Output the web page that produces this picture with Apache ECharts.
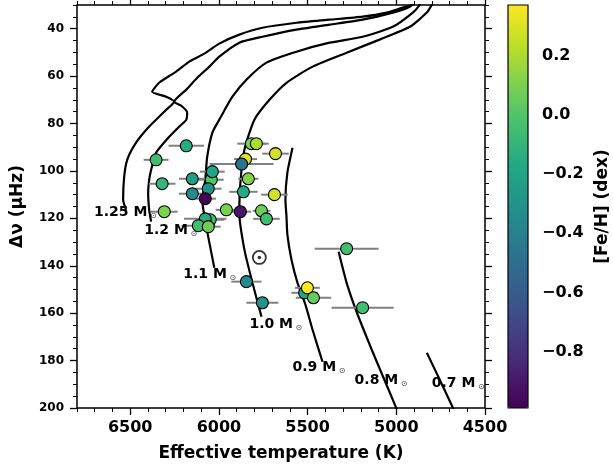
<!DOCTYPE html>
<html>
<head>
<meta charset="utf-8">
<script src="https://cdn.jsdelivr.net/npm/echarts@6/dist/echarts.min.js"></script>
<style>
  html, body { margin: 0; padding: 0; background: #fff; }
  #chart { width: 613px; height: 472px; }
</style>
</head>
<body>
<div id="chart"></div>
<script>
// stars: Teff (K), Teff error, delta nu (muHz), [Fe/H]
const teff = [6184, 6354, 6320, 6308, 6150, 6150, 6043, 6037, 6060, 6077, 5958, 5879, 5760, 5732, 5817, 5789, 5681, 5850, 5872, 5834, 5862, 5687, 6049, 6077, 6116, 6060, 5845, 5755, 5280, 5517, 5501, 5467, 5190]
const teffErr = [100, 70, 75, 75, 75, 75, 70, 70, 75, 60, 60, 60, 50, 75, 80, 70, 75, 65, 180, 57, 80, 75, 80, 120, 95, 70, 85, 90, 180, 75, 70, 100, 175]
const dnu = [89.4, 95.3, 105.4, 117.2, 103.3, 109.6, 103.7, 100.3, 107.5, 111.7, 116.4, 117.2, 116.8, 120.2, 88.5, 88.5, 92.7, 95.0, 97.1, 103.3, 108.8, 110.0, 120.6, 120.2, 123.1, 123.5, 146.7, 155.6, 132.8, 151.4, 149.3, 153.5, 157.7]
const feh = [-0.15, -0.05, -0.1, 0.1, -0.24, -0.35, 0.0, -0.2, -0.3, -0.98, 0.1, -0.9, 0.07, -0.05, 0.1, 0.2, 0.28, 0.3, -0.47, 0.12, -0.17, 0.28, -0.05, -0.15, -0.05, 0.07, -0.35, -0.3, -0.05, -0.2, 0.37, 0.05, -0.05]

// evolutionary tracks [Teff, delta nu]
const track125 = [[6523, 116.4], [6540, 112.1], [6534, 102.4], [6517, 95.3], [6467, 88.1], [6393, 81.3], [6297, 74.2], [6252, 70.8], [6297, 68.7], [6376, 66.6], [6337, 62.8], [6241, 58.1], [6167, 53.9], [6082, 50.5], [5998, 46.3], [5885, 42.5], [5755, 39.6], [5563, 37.5], [5376, 36.2], [5190, 34.9], [5054, 33.2], [4964, 31.1], [4907, 29.9], [4879, 27.8]]
const track12 = [[6382, 121.4], [6393, 116.4], [6399, 109.2], [6393, 103.7], [6382, 99.5], [6354, 92.3], [6280, 85.6], [6224, 81.3], [6184, 78.4], [6179, 75.4], [6212, 72.5], [6252, 70.8], [6184, 65.7], [6122, 60.7], [6054, 56.0], [5998, 51.8], [5885, 45.9], [5755, 43.4], [5563, 40.4], [5376, 38.3], [5190, 36.2], [5020, 33.2], [4924, 30.7], [4896, 28.6]]
const track11 = [[6026, 140.8], [6071, 123.5], [6094, 112.2], [6077, 103.7], [6066, 94.0], [6037, 83.9], [5992, 77.6], [5924, 68.7], [5845, 61.5], [5732, 54.3], [5563, 49.7], [5376, 45.9], [5190, 43.4], [5020, 39.2], [4907, 33.2], [4868, 29.9], [4856, 27.8]]
const track10 = [[5760, 161.5], [5811, 147.2], [5856, 133.3], [5885, 117.6], [5879, 105.0], [5856, 91.0], [5800, 78.4], [5715, 70.0], [5619, 62.8], [5472, 56.0], [5280, 50.1], [5094, 44.6], [4924, 39.2], [4828, 33.2], [4800, 29.9], [4789, 27.8]]
const track09 = [[5585, 90.2], [5614, 100.7], [5625, 112.1], [5619, 119.3], [5614, 126.9], [5591, 137.5], [5557, 147.2], [5512, 156.5], [5472, 167.0], [5416, 180.5]]
const track08 = [[5325, 134.1], [5280, 147.2], [5224, 159.4], [5150, 173.3], [5077, 186.4], [5003, 199.5], [4995, 201.5]]
const track07 = [[4828, 176.7], [4755, 188.1], [4681, 199.9], [4675, 201.5]]
const tracks = [track125, track12, track11, track10, track09, track08, track07]

// track labels: [Teff, delta nu, text]
const trackLabels = [
  [6704, 117.6, '1.25 M'],
  [6421, 125.2, '1.2 M'],
  [6201, 143.8, '1.1 M'],
  [5828, 164.9, '1.0 M'],
  [5585, 183.0, '0.9 M'],
  [5235, 188.5, '0.8 M'],
  [4800, 189.8, '0.7 M'],
]
const sun = [5772, 136.5]

const teffTicks = [4500, 5000, 5500, 6000, 6500]
const dnuTicks = [40, 60, 80, 100, 120, 140, 160, 180, 200]
const fehTicks = [-0.8, -0.6, -0.4, -0.2, 0.0, 0.2]
const fehMin = -0.99
const fehMax = 0.37

const viridis = ['#440154', '#482475', '#414487', '#355f8d', '#2a788e', '#21918c', '#22a884', '#44bf70', '#7ad151', '#bddf26', '#fde725']
const font = 'DejaVu Sans'

function xAx(position, major, withLabel) {
  return {
    type: 'value', gridIndex: 0, position, min: 4500, max: 6800, inverse: true,
    interval: major ? undefined : 100,
    axisLine: { show: false },
    splitLine: { show: false },
    axisTick: major
      ? { show: true, length: 7, customValues: teffTicks, lineStyle: { color: '#000', width: 1.3 } }
      : { show: true, length: 4, lineStyle: { color: '#000', width: 1 } },
    axisLabel: withLabel
      ? { show: true, customValues: teffTicks, margin: 12, formatter: v => String(v), fontFamily: font, fontWeight: 'bold', fontSize: 16, color: '#000' }
      : { show: false },
    name: withLabel ? 'Effective temperature (K)' : '',
    nameLocation: 'middle', nameGap: 37,
    nameTextStyle: { fontFamily: font, fontWeight: 'bold', fontSize: 17, color: '#000' },
  }
}

function yAx(position, major, withLabel) {
  return {
    type: 'value', gridIndex: 0, position, min: 30, max: 200, inverse: true,
    interval: major ? undefined : 5,
    axisLine: { show: false },
    splitLine: { show: false },
    axisTick: major
      ? { show: true, length: 7, customValues: dnuTicks, lineStyle: { color: '#000', width: 1.3 } }
      : { show: true, length: 4, lineStyle: { color: '#000', width: 1 } },
    axisLabel: withLabel
      ? { show: true, customValues: dnuTicks, margin: 13, fontFamily: font, fontWeight: 'bold', fontSize: 12, color: '#000' }
      : { show: false },
    name: withLabel ? 'Δν (μHz)' : '',
    nameLocation: 'middle', nameGap: 51, nameRotate: 90,
    nameTextStyle: { fontFamily: font, fontWeight: 'bold', fontSize: 17, color: '#000' },
  }
}

const trackSeries = tracks.map(t => ({
  type: 'line', xAxisIndex: 0, yAxisIndex: 0,
  data: t, smooth: 0.2, symbol: 'none', clip: true,
  lineStyle: { color: '#000', width: 2.2 },
  z: 2,
}))

const errSeries = {
  type: 'custom', xAxisIndex: 0, yAxisIndex: 0,
  data: teff.map((t, i) => [t, dnu[i], teffErr[i]]),
  encode: { x: 0, y: 1 },
  renderItem: (params, api) => {
    const y = api.value(1)
    const a = api.coord([api.value(0) - api.value(2), y])
    const b = api.coord([api.value(0) + api.value(2), y])
    return {
      type: 'line',
      shape: { x1: a[0], y1: a[1], x2: b[0], y2: b[1] },
      style: { stroke: '#808080', lineWidth: 2 },
    }
  },
  z: 3,
}

const starSeries = {
  type: 'scatter', xAxisIndex: 0, yAxisIndex: 0,
  data: teff.map((t, i) => [t, dnu[i], feh[i]]),
  symbolSize: 12,
  itemStyle: { borderColor: '#000', borderWidth: 1.1, opacity: 1 },
  z: 4,
}

const labelSeries = {
  type: 'scatter', xAxisIndex: 0, yAxisIndex: 0,
  data: trackLabels.map(l => ({ value: [l[0], l[1]], name: l[2] })),
  symbolSize: 0,
  itemStyle: { color: '#000' },
  label: {
    show: true, position: 'right', distance: 0, color: '#000',
    formatter: p => '{n|' + p.name + '}{s| ⊙}',
    rich: {
      n: { fontFamily: font, fontWeight: 'bold', fontSize: 14, color: '#000', opacity: 1 },
      s: { fontFamily: font, fontSize: 8, color: '#000', verticalAlign: 'bottom' },
    },
  },
  emphasis: { disabled: true },
  z: 5,
}

const sunSeries = [
  {
    type: 'scatter', xAxisIndex: 0, yAxisIndex: 0, data: [sun], symbolSize: 13,
    itemStyle: { color: '#fff', borderColor: '#000', borderWidth: 1.8 }, z: 5,
  },
  {
    type: 'scatter', xAxisIndex: 0, yAxisIndex: 0, data: [sun], symbolSize: 3.5,
    itemStyle: { color: '#000' }, z: 6,
  },
]

const series = [...trackSeries, errSeries, starSeries, labelSeries, ...sunSeries]
const starIndex = series.indexOf(starSeries)

const chart = echarts.init(document.getElementById('chart'), null, { renderer: 'canvas' })
chart.setOption({
  animation: false,
  backgroundColor: '#fff',
  textStyle: { fontFamily: font },
  grid: [
    { left: 77, top: 5, width: 408, height: 403, show: true, borderColor: '#000', borderWidth: 1.5, backgroundColor: 'transparent' },
    { left: 508, top: 5, width: 20, height: 403, show: true, borderColor: '#000', borderWidth: 1.2, backgroundColor: 'transparent', z: 10 },
  ],
  xAxis: [
    xAx('bottom', true, true),
    xAx('bottom', false, false),
    xAx('top', true, false),
    xAx('top', false, false),
    { type: 'value', gridIndex: 1, show: false, min: 0, max: 1 },
  ],
  yAxis: [
    yAx('left', true, true),
    yAx('left', false, false),
    yAx('right', true, false),
    yAx('right', false, false),
    {
      type: 'value', gridIndex: 1, position: 'right', min: fehMin, max: fehMax,
      axisLine: { show: false },
      splitLine: { show: false },
      axisTick: { show: true, length: 6, customValues: fehTicks, lineStyle: { color: '#000', width: 1.3 } },
      axisLabel: {
        show: true, customValues: fehTicks, margin: 14,
        formatter: v => v.toFixed(1).replace('-', '\u2212'),
        fontFamily: font, fontWeight: 'bold', fontSize: 16, color: '#000',
      },
      name: '[Fe/H] (dex)', nameLocation: 'middle', nameGap: 66, nameRotate: 90,
      nameTextStyle: { fontFamily: font, fontWeight: 'bold', fontSize: 17, color: '#000' },
    },
  ],
  visualMap: {
    type: 'continuous',
    min: fehMin, max: fehMax,
    dimension: 2,
    seriesIndex: starIndex,
    orient: 'vertical',
    left: 508, top: 5,
    itemWidth: 20, itemHeight: 403,
    padding: 0,
    calculable: false,
    hoverLink: false,
    text: null,
    inRange: { color: viridis },
  },
  series,
})
</script>
</body>
</html>
